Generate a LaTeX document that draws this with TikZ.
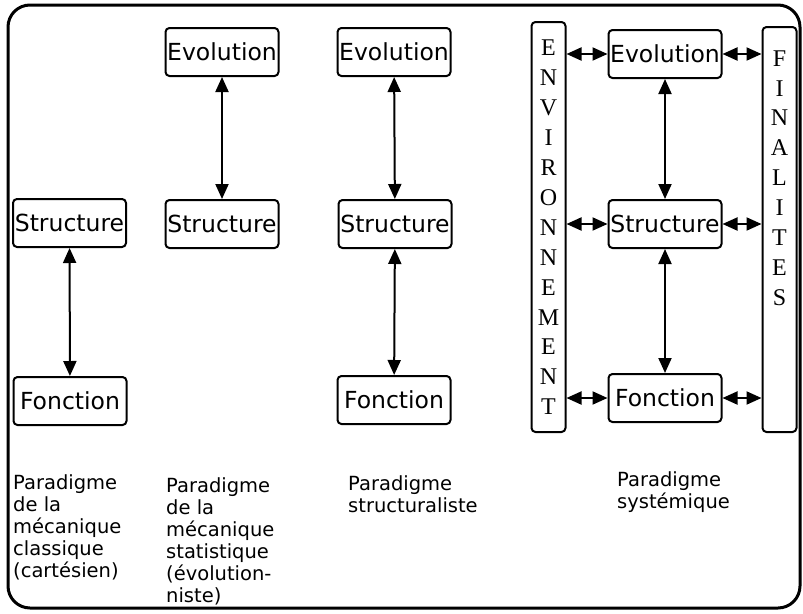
\documentclass[tikz,border=0pt]{standalone}
\usepackage{fontspec}
\setmainfont{DejaVu Sans}
\newfontfamily\letterfont{Liberation Serif}
\usetikzlibrary{arrows.meta}
\begin{document}
\begin{tikzpicture}[x=1pt,y=-1pt,
  concept/.style={draw,line width=2pt,rounded corners=4pt,minimum width=113pt,
    minimum height=48pt,inner sep=0pt,font=\fontsize{23.5}{24}\selectfont},
  sidebar/.style={draw,line width=2pt,rounded corners=4pt,minimum width=34pt,inner sep=0pt},
  letters/.style={align=center,inner sep=0pt,font=\letterfont\fontsize{24}{29.9}\selectfont},
  caption/.style={anchor=north west,align=left,inner sep=0pt,font=\fontsize{19.5}{22}\selectfont},
  link/.style={line width=2pt,{Triangle[length=15pt,width=13pt]}-{Triangle[length=15pt,width=13pt]}},
  frame/.style={line width=3pt,rounded corners=22pt}
]
\useasboundingbox (0,0) rectangle (803,613);
\draw[frame] (8,5) rectangle (800,608);

% classical mechanics
\node[concept] (s1) at (69.5,223) {Structure};
\node[concept] (f1) at (70,401) {Fonction};
\draw[link] (s1) -- (f1);

% statistical mechanics
\node[concept] (e2) at (222,52) {Evolution};
\node[concept] (s2) at (222,224) {Structure};
\draw[link] (e2) -- (s2);

% structuralism
\node[concept] (e3) at (394,52) {Evolution};
\node[concept] (s3) at (395,224) {Structure};
\node[concept] (f3) at (394,400) {Fonction};
\draw[link] (e3) -- (s3);
\draw[link] (s3) -- (f3);

% systemic
\node[concept] (e4) at (665,54) {Evolution};
\node[concept] (s4) at (665,224) {Structure};
\node[concept] (f4) at (665,398) {Fonction};
\draw[link] (e4) -- (s4);
\draw[link] (s4) -- (f4);

\node[sidebar,minimum height=410pt] (env) at (548.5,227) {};
\node[letters] (envtext) at (548.5,227.5) {E\\N\\V\\I\\R\\O\\N\\N\\E\\M\\E\\N\\T};
\node[sidebar,minimum height=405pt] (fin) at (779.5,229.5) {};
\node[letters] (fintext) at (779.5,178) {F\\I\\N\\A\\L\\I\\T\\E\\S};

\foreach \n in {e4,s4,f4}{
  \draw[link] (\n.west -| env.east) -- (\n.west);
  \draw[link] (\n.east) -- (\n.east -| fin.west);
}

% captions
\node[caption] (c1) at (13,474) {Paradigme\\de la\\mécanique\\classique\\(cartésien)};
\node[caption] (c2) at (166,477) {Paradigme\\de la\\mécanique\\statistique\\(évolution-\\niste)};
\node[caption] (c3) at (348,475) {Paradigme\\structuraliste};
\node[caption] (c4) at (617,471) {Paradigme\\systémique};
\end{tikzpicture}
\end{document}
